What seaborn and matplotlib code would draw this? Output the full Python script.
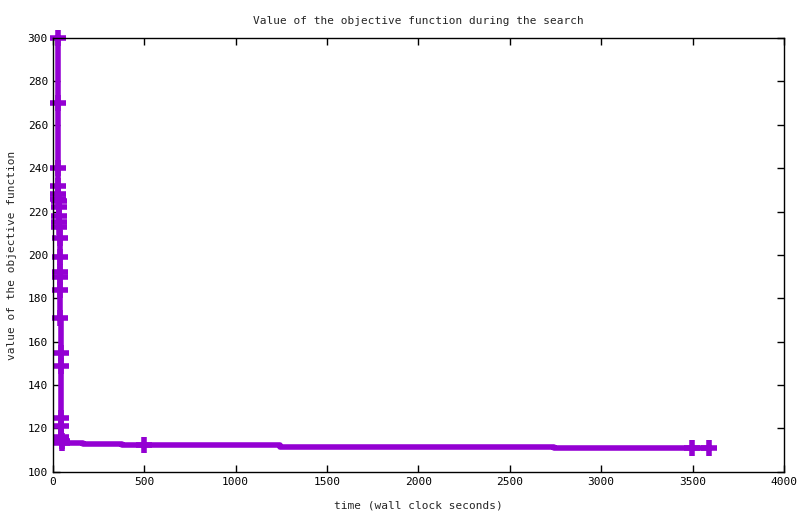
import pandas as pd
import matplotlib
matplotlib.use('Agg')
import matplotlib.pyplot as plt
import seaborn as sns

# objective value trace (time in wall clock seconds, value)
times = [26, 27, 28, 29, 30, 31, 32, 33, 34, 35, 36, 37, 38, 39, 40, 41, 42,
         43, 44, 45, 46, 47, 50, 53,
         165, 380, 500, 1245, 2740, 3495, 3590]
values = [300, 270, 240, 232, 228, 226, 225, 222, 218, 215, 213, 208, 199,
          192, 190, 184, 171, 155, 149, 125, 121, 116, 114, 113.4,
          112.9, 112.2, 112.2, 111.5, 111.1, 111.1, 111.1]
# which samples get a point marker
marked = list(range(24)) + [26, 29, 30]

x_ticks = [0, 500, 1000, 1500, 2000, 2500, 3000, 3500, 4000]
y_ticks = [100, 120, 140, 160, 180, 200, 220, 240, 260, 280, 300]

df = pd.DataFrame({'time': times, 'value': values})

sns.set_style('ticks')
plt.rcParams['font.family'] = ['DejaVu Sans Mono']

fig = plt.figure(figsize=(8, 5.14), dpi=100)
ax = fig.add_axes([0.066, 0.082, 0.914, 0.844])

sns.lineplot(data=df, x='time', y='value', sort=False, ax=ax,
             color='#9400D3', linewidth=4, drawstyle='steps-post',
             marker='+', markevery=marked, markersize=11,
             markeredgewidth=4, markeredgecolor='#9400D3', clip_on=False)

ax.set_xlim(0, 4000)
ax.set_ylim(100, 300)
ax.set_xticks(x_ticks)
ax.set_yticks(y_ticks)
ax.tick_params(direction='in', top=True, right=True, labelsize=8,
               length=5, width=1, colors='black')
for s in ax.spines.values():
    s.set_color('black')
    s.set_linewidth(1)

ax.set_title('Value of the objective function during the search',
             fontsize=8, pad=10)
ax.set_xlabel('time (wall clock seconds)', fontsize=8, labelpad=10)
ax.set_ylabel('value of the objective function', fontsize=8, labelpad=8)

fig.savefig('out.png', dpi=100)
